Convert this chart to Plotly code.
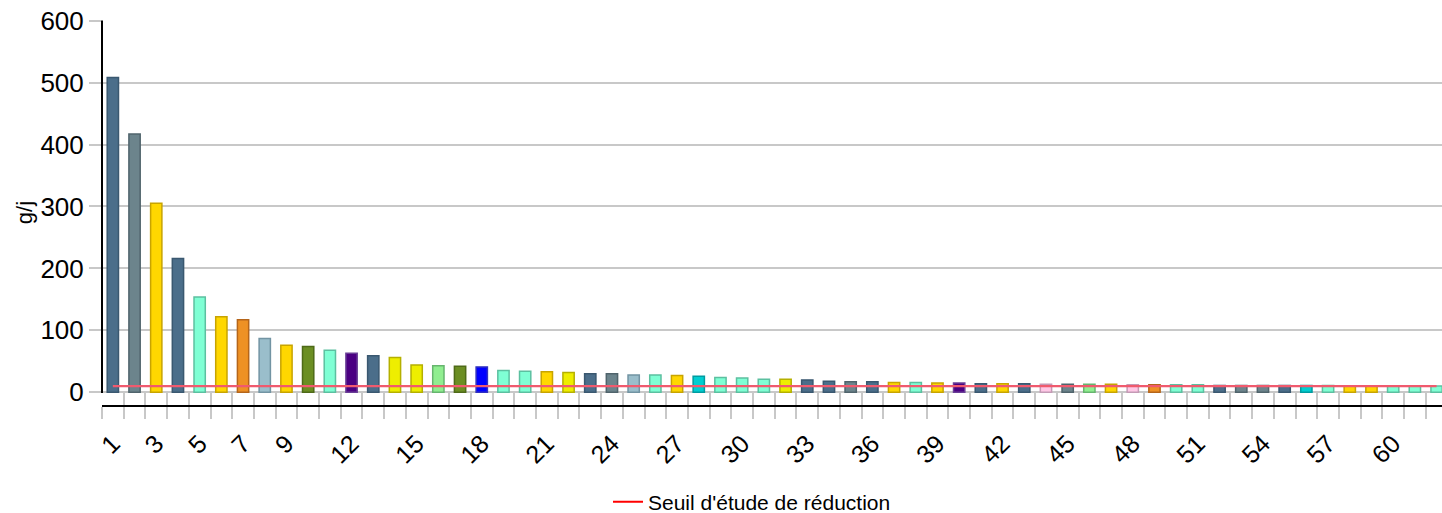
import plotly.graph_objects as go

categories = [1, 2, 3, 4, 5, 6, 7, 8, 9, 10, 11, 12, 13, 14, 15, 16, 17, 18, 19, 20,
              21, 22, 23, 24, 25, 26, 27, 28, 29, 30, 31, 32, 33, 34, 35, 36, 37, 38, 39, 40,
              41, 42, 43, 44, 45, 46, 47, 48, 49, 50, 51, 52, 53, 54, 55, 56, 57, 58, 59, 60,
              61, 62]
values = [508, 417, 305, 216, 154, 122, 117, 87, 76, 74, 68, 63, 59, 56, 44, 43, 42, 41, 35, 34,
          33, 32, 30, 30, 28, 28, 27, 26, 24, 23, 21, 21, 20, 18, 17, 17, 16, 16, 15, 15,
          14, 14, 14, 13, 13, 13, 13, 12, 12, 12, 12, 11, 11, 11, 11, 11, 11, 10, 10, 10,
          10, 10]
color_keys = ["A", "B", "C", "A", "D", "C", "E", "F", "C", "G", "D", "H", "A", "I", "I", "J", "G", "K", "D", "D",
              "C", "I", "A", "B", "F", "D", "C", "L", "D", "D", "D", "I", "A", "A", "B", "A", "C", "D", "C", "H",
              "A", "C", "A", "M", "B", "J", "C", "M", "E", "D", "D", "A", "B", "B", "A", "L", "D", "C", "C", "D",
              "D", "D"]
threshold = 10
threshold_name = "Seuil d'étude de réduction"
tick_values = [1, 3, 5, 7, 9, 12, 15, 18, 21, 24, 27, 30, 33, 36, 39, 42, 45, 48, 51, 54, 57, 60]
tick_labels = ["1", "3", "5", "7", "9", "12", "15", "18", "21", "24", "27", "30", "33", "36",
               "39", "42", "45", "48", "51", "54", "57", "60"]
y_ticks = [0, 100, 200, 300, 400, 500, 600]

palette_fill = {
    "A": "#4B6E8A", "B": "#6C848C", "C": "#FFD700", "D": "#7FFFD4", "E": "#EE9124",
    "F": "#9ABECB", "G": "#6B8E23", "H": "#4B0082", "I": "#EEEE00", "J": "#90EE90",
    "K": "#0000FF", "L": "#00CED1", "M": "#FFC8E6",
}
palette_line = {
    "A": "#3A5870", "B": "#50646C", "C": "#C8A400", "D": "#5CC0A0", "E": "#B5651A",
    "F": "#7294A3", "G": "#4E6A18", "H": "#6A3E96", "I": "#B5B000", "J": "#66B56E",
    "K": "#3030C0", "L": "#009CA0", "M": "#C49AB5",
}

FONT = "Liberation Sans, Arial, sans-serif"
GRID = "#c8c8c8"

fig = go.Figure()
fig.add_trace(go.Bar(
    x=categories, y=values, width=0.52,
    marker=dict(color=[palette_fill[k] for k in color_keys],
                line=dict(color=[palette_line[k] for k in color_keys], width=1.5)),
    showlegend=False,
))
fig.add_trace(go.Scatter(
    x=categories, y=[threshold] * len(categories), mode="lines",
    line=dict(color="#F05A6E", width=2.2), showlegend=False, hoverinfo="skip",
))
fig.add_trace(go.Scatter(
    x=[None], y=[None], mode="lines", name=threshold_name,
    line=dict(color="#FF0000", width=2), showlegend=True,
))
fig.add_trace(go.Scatter(
    x=[None], y=[None], mode="lines", xaxis="x2", showlegend=False, hoverinfo="skip",
))

x_range = [0.5, 62.25]
fig.update_layout(
    width=1442, height=513,
    margin=dict(l=102, r=0, t=20, b=108),
    paper_bgcolor="white", plot_bgcolor="white",
    font=dict(family=FONT, color="black"),
    xaxis=dict(
        range=x_range, tickmode="array", tickvals=tick_values, ticktext=tick_labels,
        tickangle=-45, ticks="outside", ticklen=12, tickcolor="rgba(0,0,0,0)",
        tickfont=dict(size=25), automargin=False,
        showgrid=False, zeroline=False, showline=True, linecolor="black", linewidth=2,
        minor=dict(tick0=0.5, dtick=1, ticks="outside", ticklen=12, tickwidth=2,
                   tickcolor=GRID, showgrid=False),
    ),
    xaxis2=dict(
        range=x_range, overlaying="x", anchor="y", side="bottom", automargin=False,
        tickmode="linear", tick0=0.5, dtick=1, ticks="inside", ticklen=12, tickwidth=2,
        tickcolor=GRID, showticklabels=False, showline=False, showgrid=False, zeroline=False,
    ),
    yaxis=dict(
        range=[-20.5, 601], tickmode="array", tickvals=y_ticks, automargin=False,
        ticks="outside", ticklen=12, tickwidth=2, tickcolor=GRID,
        showgrid=True, gridcolor=GRID, gridwidth=2, zeroline=False, showline=False,
        tickfont=dict(size=26),
        title=dict(text="g/j", font=dict(size=22), standoff=1),
    ),
    legend=dict(orientation="h", xref="container", yref="container",
                x=0.5215, xanchor="center", y=0.0214, yanchor="middle",
                font=dict(size=21), bgcolor="rgba(0,0,0,0)"),
    bargap=0.4,
    shapes=[dict(type="line", xref="paper", yref="y", x0=0, x1=0, y0=-1, y1=600,
                 line=dict(color="black", width=2))],
)

fig.write_html("out.html", config={"displayModeBar": False},
               post_script="document.body.style.margin='0';document.body.style.overflow='hidden';")
